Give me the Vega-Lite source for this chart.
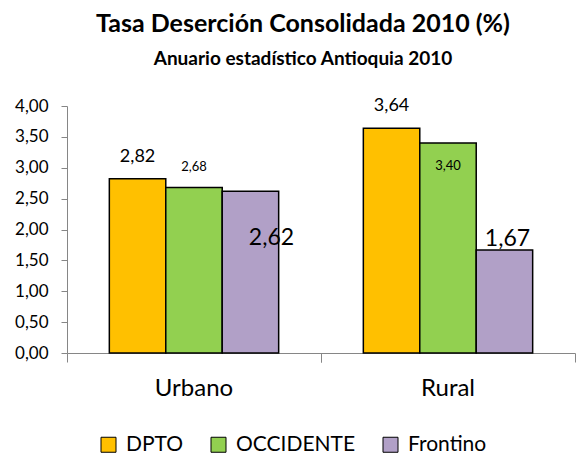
{
  "$schema": "https://vega.github.io/schema/vega-lite/v6.json",
  "width": 508,
  "height": 247,
  "autosize": {"type": "none"},
  "padding": {"left": 67, "top": 106, "right": 2, "bottom": 104},
  "background": "white",
  "config": {
    "view": {"stroke": null},
    "font": "Lato",
    "locale": {"number": {"decimal": ",", "thousands": ".", "grouping": [3], "currency": ["", " €"]}},
    "title": {"font": "Lato", "subtitleFont": "Lato", "color": "black", "subtitleColor": "black"}
  },
  "title": {
    "text": "Tasa Deserción Consolidada 2010 (%)",
    "subtitle": "Anuario estadístico Antioquia 2010",
    "fontSize": 25,
    "fontWeight": "bold",
    "subtitleFontSize": 19,
    "subtitleFontWeight": "bold",
    "subtitlePadding": 13,
    "offset": 28,
    "anchor": "middle",
    "dx": -18
  },
  "data": {
    "values": [
      {"zona": "Urbano", "serie": "DPTO", "valor": 2.82},
      {"zona": "Urbano", "serie": "OCCIDENTE", "valor": 2.68},
      {"zona": "Urbano", "serie": "Frontino", "valor": 2.62},
      {"zona": "Rural", "serie": "DPTO", "valor": 3.64},
      {"zona": "Rural", "serie": "OCCIDENTE", "valor": 3.40},
      {"zona": "Rural", "serie": "Frontino", "valor": 1.67}
    ]
  },
  "encoding": {
    "x": {
      "field": "zona", "type": "nominal", "sort": ["Urbano", "Rural"],
      "scale": {"paddingInner": 0, "paddingOuter": 0},
      "axis": null
    },
    "xOffset": {
      "field": "serie", "type": "nominal", "sort": ["DPTO", "OCCIDENTE", "Frontino"],
      "scale": {"paddingInner": 0, "paddingOuter": 0.75}
    },
    "y": {
      "field": "valor", "type": "quantitative",
      "scale": {"domain": [0, 4]},
      "axis": {
        "title": null, "grid": false, "values": [0, 0.5, 1, 1.5, 2, 2.5, 3, 3.5, 4],
        "format": ".2f", "labelFontSize": 17, "labelColor": "black",
        "domainColor": "#868686", "tickColor": "#868686", "tickSize": 6, "labelPadding": 13
      }
    }
  },
  "resolve": {"axis": {"x": "independent"}},
  "layer": [
    {
      "mark": {"type": "bar", "opacity": 0},
      "encoding": {
        "x": {
          "field": "zona", "type": "nominal", "sort": ["Urbano", "Rural"],
          "axis": {
            "orient": "bottom", "title": null, "labels": false, "domain": false,
            "tickColor": "#868686", "tickSize": 9, "bandPosition": 1
          }
        }
      }
    },
    {
      "mark": {"type": "bar", "stroke": "black", "strokeWidth": 1.5},
      "encoding": {
        "x": {
          "field": "zona", "type": "nominal", "sort": ["Urbano", "Rural"],
          "axis": {
            "orient": "bottom", "title": null, "labelAngle": 0, "labelFontSize": 24, "labelColor": "black",
            "domainColor": "#868686", "tickColor": "#868686", "tickSize": 9,
            "bandPosition": 0, "labelPadding": 14, "labelFont": "Lato"
          }
        },
        "color": {
          "field": "serie", "type": "nominal", "sort": ["DPTO", "OCCIDENTE", "Frontino"],
          "scale": {"domain": ["DPTO", "OCCIDENTE", "Frontino"], "range": ["#FFC000", "#92D050", "#B1A0C7"]},
          "legend": {
            "title": null, "orient": "none", "direction": "horizontal",
            "legendX": 31, "legendY": 328, "padding": 0,
            "symbolType": "square", "symbolSize": 225, "symbolStrokeColor": "black", "symbolStrokeWidth": 1,
            "labelFontSize": 21, "labelColor": "black", "labelOffset": 7, "columnPadding": 24, "labelFont": "Lato"
          }
        }
      }
    },
    {
      "transform": [{"filter": "datum.serie == 'DPTO'"}],
      "mark": {"type": "text", "fontSize": 18, "dy": -22, "baseline": "middle", "color": "black"},
      "encoding": {"text": {"field": "valor", "type": "quantitative", "format": ".2f"}}
    },
    {
      "transform": [{"filter": "datum.serie == 'OCCIDENTE' && datum.zona == 'Urbano'"}],
      "mark": {"type": "text", "fontSize": 13, "dy": -21, "baseline": "middle", "color": "black"},
      "encoding": {"text": {"field": "valor", "type": "quantitative", "format": ".2f"}}
    },
    {
      "transform": [{"filter": "datum.serie == 'OCCIDENTE' && datum.zona == 'Rural'"}],
      "mark": {"type": "text", "fontSize": 13, "dy": 23, "baseline": "middle", "color": "black"},
      "encoding": {"text": {"field": "valor", "type": "quantitative", "format": ".2f"}}
    },
    {
      "transform": [{"filter": "datum.serie == 'Frontino' && datum.zona == 'Urbano'"}],
      "mark": {"type": "text", "fontSize": 23, "dy": 47, "dx": 21, "baseline": "middle", "color": "black"},
      "encoding": {"text": {"field": "valor", "type": "quantitative", "format": ".2f"}}
    },
    {
      "transform": [{"filter": "datum.serie == 'Frontino' && datum.zona == 'Rural'"}],
      "mark": {"type": "text", "fontSize": 23, "dy": -11, "dx": 3, "baseline": "middle", "color": "black"},
      "encoding": {"text": {"field": "valor", "type": "quantitative", "format": ".2f"}}
    }
  ]
}
